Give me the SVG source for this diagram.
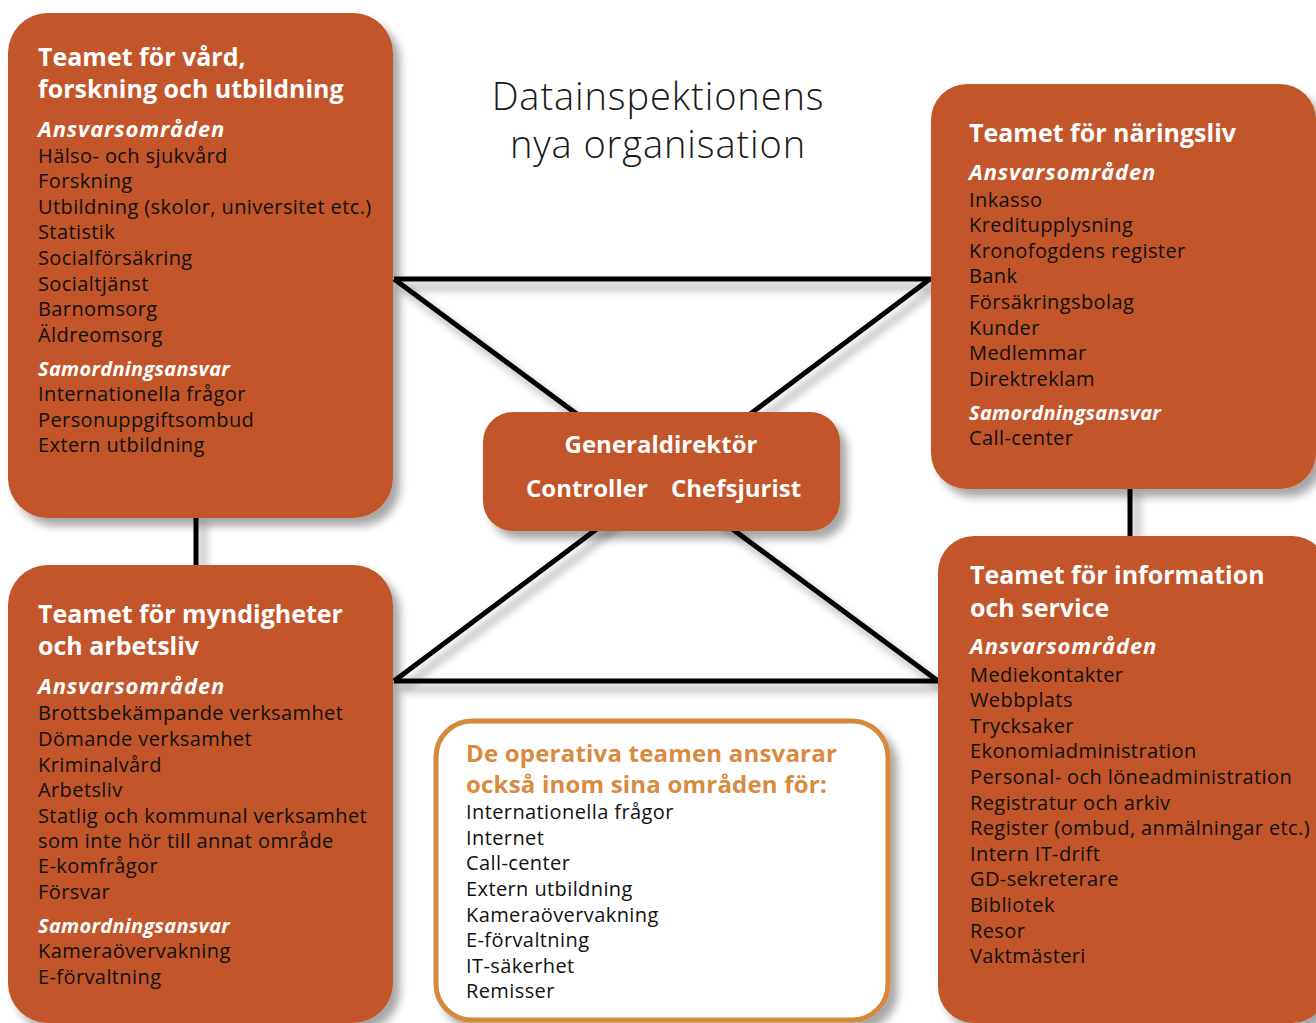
<svg xmlns="http://www.w3.org/2000/svg" width="1316" height="1023" viewBox="0 0 1316 1023">
<style>
text{font-family:"Open Sans","Noto Sans","Liberation Sans",sans-serif}
.box{fill:#C2552B}
.hd{font-size:25px;font-weight:700;fill:#fff}
.sec{font-size:22px;font-weight:700;font-style:italic;fill:#fff;letter-spacing:0.85px}
.sec2{font-size:20px;font-weight:700;font-style:italic;fill:#fff;letter-spacing:0.3px}
.it{font-size:20px;fill:#111;letter-spacing:0.4px}
.ctr{font-size:24px;font-weight:700;fill:#fff}
.title{font-size:38px;font-weight:300;fill:#1a1a1a;letter-spacing:0.9px}
.ohd{font-size:24px;font-weight:700;fill:#D88A3E;letter-spacing:0.2px}
.ln{stroke:#000;stroke-width:5;fill:none}
</style>
<defs>
<filter id="sh" x="-20%" y="-20%" width="140%" height="140%">
<feDropShadow dx="7" dy="8" stdDeviation="4" flood-color="#000" flood-opacity="0.35"/>
</filter>
</defs>
<rect width="1316" height="1023" fill="#fff"/>
<g id="connectors" filter="url(#sh)">
<line class="ln" x1="394" y1="279" x2="932" y2="279"/>
<line class="ln" x1="394" y1="681" x2="940" y2="681"/>
<line class="ln" x1="394" y1="279" x2="938" y2="681"/>
<line class="ln" x1="930" y1="279" x2="394" y2="681"/>
<line class="ln" x1="196" y1="515" x2="196" y2="567"/>
<line class="ln" x1="1130" y1="487" x2="1130" y2="538"/>
</g>
<g id="title">
<text class="title" x="658" y="110" text-anchor="middle">Datainspektionens</text>
<text class="title" x="658" y="158" text-anchor="middle">nya organisation</text>
</g>
<g id="team-vard">
<rect class="box" x="8" y="13" width="385" height="505" rx="40" filter="url(#sh)"/>
<text class="hd" x="38" y="66">Teamet för vård,</text>
<text class="hd" x="38" y="98">forskning och utbildning</text>
<text class="sec" x="38" y="137">Ansvarsområden</text>
<text class="it" x="38" y="163">Hälso- och sjukvård</text>
<text class="it" x="38" y="188">Forskning</text>
<text class="it" x="38" y="214">Utbildning (skolor, universitet etc.)</text>
<text class="it" x="38" y="239">Statistik</text>
<text class="it" x="38" y="265">Socialförsäkring</text>
<text class="it" x="38" y="291">Socialtjänst</text>
<text class="it" x="38" y="316">Barnomsorg</text>
<text class="it" x="38" y="342">Äldreomsorg</text>
<text class="sec2" x="38" y="376">Samordningsansvar</text>
<text class="it" x="38" y="401">Internationella frågor</text>
<text class="it" x="38" y="427">Personuppgiftsombud</text>
<text class="it" x="38" y="452">Extern utbildning</text>
</g>
<g id="team-myndigheter">
<rect class="box" x="8" y="565" width="385" height="458" rx="40" filter="url(#sh)"/>
<text class="hd" x="38" y="623">Teamet för myndigheter</text>
<text class="hd" x="38" y="655">och arbetsliv</text>
<text class="sec" x="38" y="694">Ansvarsområden</text>
<text class="it" x="38" y="720">Brottsbekämpande verksamhet</text>
<text class="it" x="38" y="746">Dömande verksamhet</text>
<text class="it" x="38" y="772">Kriminalvård</text>
<text class="it" x="38" y="797">Arbetsliv</text>
<text class="it" x="38" y="823">Statlig och kommunal verksamhet</text>
<text class="it" x="38" y="848">som inte hör till annat område</text>
<text class="it" x="38" y="873">E-komfrågor</text>
<text class="it" x="38" y="899">Försvar</text>
<text class="sec2" x="38" y="933">Samordningsansvar</text>
<text class="it" x="38" y="958">Kameraövervakning</text>
<text class="it" x="38" y="984">E-förvaltning</text>
</g>
<g id="team-naringsliv">
<rect class="box" x="931" y="84" width="385" height="405" rx="36" filter="url(#sh)"/>
<text class="hd" x="969" y="142">Teamet för näringsliv</text>
<text class="sec" x="969" y="180">Ansvarsområden</text>
<text class="it" x="969" y="207">Inkasso</text>
<text class="it" x="969" y="232">Kreditupplysning</text>
<text class="it" x="969" y="258">Kronofogdens register</text>
<text class="it" x="969" y="283">Bank</text>
<text class="it" x="969" y="309">Försäkringsbolag</text>
<text class="it" x="969" y="335">Kunder</text>
<text class="it" x="969" y="360">Medlemmar</text>
<text class="it" x="969" y="386">Direktreklam</text>
<text class="sec2" x="969" y="420">Samordningsansvar</text>
<text class="it" x="969" y="445">Call-center</text>
</g>
<g id="team-information">
<rect class="box" x="938" y="536" width="390" height="487" rx="36" filter="url(#sh)"/>
<text class="hd" x="970" y="584">Teamet för information</text>
<text class="hd" x="970" y="617">och service</text>
<text class="sec" x="970" y="654">Ansvarsområden</text>
<text class="it" x="970" y="682">Mediekontakter</text>
<text class="it" x="970" y="707">Webbplats</text>
<text class="it" x="970" y="733">Trycksaker</text>
<text class="it" x="970" y="758">Ekonomiadministration</text>
<text class="it" x="970" y="784">Personal- och löneadministration</text>
<text class="it" x="970" y="810">Registratur och arkiv</text>
<text class="it" x="970" y="835">Register (ombud, anmälningar etc.)</text>
<text class="it" x="970" y="861">Intern IT-drift</text>
<text class="it" x="970" y="886">GD-sekreterare</text>
<text class="it" x="970" y="912">Bibliotek</text>
<text class="it" x="970" y="938">Resor</text>
<text class="it" x="970" y="963">Vaktmästeri</text>
</g>
<g id="generaldirektor">
<rect class="box" x="483" y="412" width="357" height="119" rx="30" filter="url(#sh)"/>
<text class="ctr" x="661" y="453" text-anchor="middle">Generaldirektör</text>
<text class="ctr" x="526" y="497">Controller</text>
<text class="ctr" x="671" y="497">Chefsjurist</text>
</g>
<g id="operativa">
<rect x="436" y="721" width="452" height="299" rx="36" fill="#fff" stroke="#D4893C" stroke-width="5" filter="url(#sh)"/>
<text class="ohd" x="466" y="762">De operativa teamen ansvarar</text>
<text class="ohd" x="466" y="793">också inom sina områden för:</text>
<text class="it" x="466" y="819">Internationella frågor</text>
<text class="it" x="466" y="845">Internet</text>
<text class="it" x="466" y="870">Call-center</text>
<text class="it" x="466" y="896">Extern utbildning</text>
<text class="it" x="466" y="922">Kameraövervakning</text>
<text class="it" x="466" y="947">E-förvaltning</text>
<text class="it" x="466" y="973">IT-säkerhet</text>
<text class="it" x="466" y="998">Remisser</text>
</g>
</svg>
